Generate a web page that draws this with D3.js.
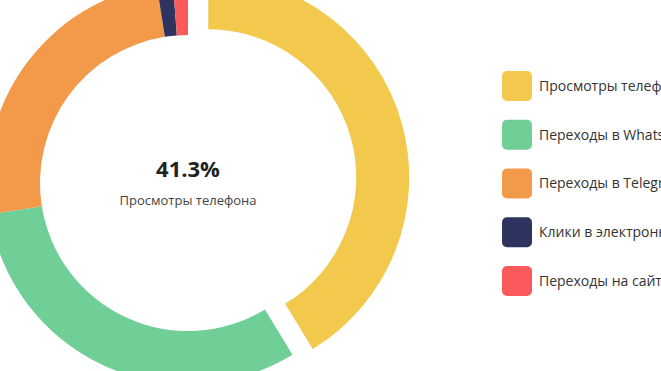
<!DOCTYPE html>
<html>
<head>
<meta charset="utf-8">
<script src="https://cdnjs.cloudflare.com/ajax/libs/d3/7.8.5/d3.min.js"></script>
<style>
  html, body { margin: 0; padding: 0; background: #fff; overflow: hidden; }
  svg { display: block; font-family: "Open Sans", "Noto Sans", sans-serif; }
</style>
</head>
<body>
<svg id="chart" width="661" height="371"></svg>
<script>
// data (share of all actions, %)
var categories = ["Просмотры телефона", "Переходы в WhatsApp", "Переходы в Telegram",
                  "Клики в электронную почту", "Переходы на сайт"];
var values = [41.3, 31.2, 25.0, 1.3, 1.2];
var colors = ["#F2C94C", "#6FCF97", "#F2994A", "#2E335F", "#FA5A5C"];
var activeIndex = 0; // highlighted slice (pulled out)

var width = 661, height = 371;
var cx = 188, cy = 183;
var outerR = 201, innerR = 148, pullOut = 21;

var svg = d3.select("#chart");

var color = d3.scaleOrdinal().domain(categories).range(colors);
var pie = d3.pie().sort(null).value(function(d){ return d.value; });
var arc = d3.arc().innerRadius(innerR).outerRadius(outerR);

var table = categories.map(function(c, i){ return {name: c, value: values[i]}; });
var total = d3.sum(values);

var g = svg.append("g").attr("transform", "translate(" + cx + "," + cy + ")");

g.selectAll(".slice").data(pie(table)).enter().append("path")
  .attr("class", "slice")
  .attr("d", arc)
  .attr("fill", function(d){ return color(d.data.name); })
  .attr("transform", function(d, i){
    if (i != activeIndex) return null;
    var mid = (d.startAngle + d.endAngle) / 2;
    return "translate(" + (Math.sin(mid) * pullOut) + "," + (-Math.cos(mid) * pullOut) + ")";
  });

// center label
g.append("text")
  .attr("text-anchor", "middle")
  .attr("y", -6)
  .attr("font-size", 22)
  .attr("font-weight", "bold")
  .attr("fill", "#222")
  .text(d3.format(".1%")(values[activeIndex] / total));

g.append("text")
  .attr("text-anchor", "middle")
  .attr("y", 22)
  .attr("font-size", 13)
  .attr("fill", "#444")
  .text(categories[activeIndex]);

// legend
var ly = d3.scalePoint().domain(categories).range([71, 266]);
var legend = svg.selectAll(".key").data(categories).enter().append("g")
  .attr("class", "key")
  .attr("transform", function(d){ return "translate(502," + ly(d) + ")"; });

legend.append("rect")
  .attr("width", 30).attr("height", 30)
  .attr("rx", 5).attr("ry", 5)
  .attr("fill", function(d){ return color(d); });

legend.append("text")
  .attr("x", 37)
  .attr("y", 15)
  .attr("dy", "0.35em")
  .attr("font-size", 14)
  .attr("fill", "#333")
  .text(function(d){ return d; });
</script>
</body>
</html>
